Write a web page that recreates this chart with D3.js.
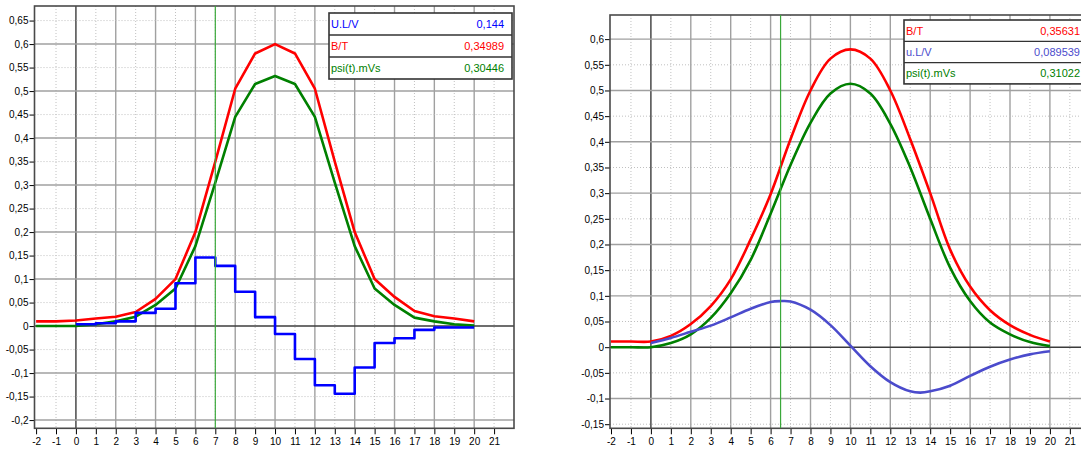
<!doctype html>
<html lang="en">
<head>
<meta charset="UTF-8">
<title>B/T, U.L/V, psi(t)</title>
<style>
    body { margin: 0; background: #fff; }
    svg { display: block; font-family: "Liberation Sans", Arial, sans-serif; }
</style>
</head>
<body>
<svg id="chart" width="1081" height="449"></svg>

<script src="https://d3js.org/d3.v7.min.js"></script>
<script>
    // ---- left chart (sampled, step voltage) ----
    const leftX = [-2, -1, 0, 1, 2, 3, 4, 5, 6, 7, 8, 9, 10, 11, 12, 13, 14, 15, 16, 17, 18, 19, 20];
    const leftBT = [0.01, 0.01, 0.012, 0.016, 0.02, 0.03, 0.058, 0.1, 0.2, 0.35, 0.505, 0.58, 0.6,
                    0.58, 0.505, 0.35, 0.2, 0.1, 0.062, 0.032, 0.021, 0.016, 0.01];
    const leftPsi = [0, 0, 0, 0.004, 0.01, 0.02, 0.045, 0.08, 0.17, 0.305, 0.445, 0.515, 0.532,
                     0.515, 0.445, 0.305, 0.17, 0.08, 0.045, 0.018, 0.01, 0.004, 0.001];
    const leftUX = [0, 1, 2, 3, 4, 5, 6, 7, 8, 9, 10, 11, 12, 13, 14, 15, 16, 17, 18, 19, 20];
    const leftU = [0.004, 0.006, 0.01, 0.028, 0.037, 0.091, 0.146, 0.128, 0.073, 0.019, -0.017,
                   -0.07, -0.126, -0.144, -0.088, -0.036, -0.026, -0.008, -0.003, -0.003, -0.003];
    const leftLegendNames = ['U.L/V', 'B/T', 'psi(t).mVs'];
    const leftLegendValues = ['0,144', '0,34989', '0,30446'];

    // ---- right chart (smooth) ----
    const rightX = [-2, -1, 0, 1, 2, 3, 4, 5, 6, 7, 8, 9, 10, 11, 12, 13, 14, 15, 16, 17, 18, 19, 20];
    const rightBT = [0.011, 0.011, 0.011, 0.022, 0.045, 0.08, 0.132, 0.21, 0.298, 0.405, 0.5, 0.562, 0.58,
                     0.562, 0.5, 0.405, 0.3, 0.19, 0.118, 0.072, 0.043, 0.024, 0.011];
    const rightPsi = [0, 0, 0, 0.008, 0.025, 0.057, 0.105, 0.17, 0.26, 0.355, 0.437, 0.494, 0.513,
                      0.494, 0.435, 0.35, 0.25, 0.155, 0.09, 0.048, 0.025, 0.01, 0.002];
    const rightUX = [0, 1, 2, 3, 4, 5, 6, 6.5, 7, 8, 9, 10, 11, 12, 13, 13.5, 14, 15, 16, 17, 18, 19, 20];
    const rightU = [0.008, 0.018, 0.03, 0.042, 0.058, 0.075, 0.088, 0.0898, 0.089, 0.073, 0.043, 0.003,
                    -0.037, -0.068, -0.086, -0.0885, -0.086, -0.075, -0.056, -0.038, -0.024, -0.014, -0.008];
    const rightLegendNames = ['B/T', 'u.L/V', 'psi(t).mVs'];
    const rightLegendValues = ['0,35631', '0,089539', '0,31022'];

    const xTicks = d3.range(-2, 22);

    const RED = '#ff0000', GREEN = '#008000', BLUE = '#0000ff', SLATE = '#4b4bcc';

    const locale = d3.formatLocale({ decimal: ',', thousands: '.', grouping: [3], currency: ['', ''], minus: '-' });
    const fmt = locale.format('.2~f');
    const fmtInt = locale.format('d');

    const svg = d3.select('#chart');

    function drawChart(cfg) {
        const x = d3.scaleLinear().domain(cfg.xDomain).range(cfg.xRange);
        const y = d3.scaleLinear().domain(cfg.yDomain).range(cfg.yRange);
        const [x0, x1] = cfg.xRange;
        const [y1, y0] = cfg.yRange;
        const g = svg.append('g');

        const clipId = 'clip' + cfg.id;
        g.append('clipPath').attr('id', clipId)
            .append('rect').attr('x', x0).attr('y', y0).attr('width', x1 - x0).attr('height', y1 - y0);

        // grid
        const grid = g.append('g');
        grid.selectAll('line.v')
            .data(xTicks.filter(d => d > -2))
            .enter().append('line')
            .attr('x1', d => x(d)).attr('x2', d => x(d))
            .attr('y1', y0).attr('y2', y1)
            .attr('stroke', d => d === 0 ? '#3c3c3c' : (d % 2 === 0 ? '#a0a0a0' : '#c0c0c0'))
            .attr('stroke-width', d => d % 2 === 0 ? 1.4 : 1)
            .attr('stroke-dasharray', d => d % 2 === 0 ? null : '1,2');

        grid.selectAll('line.h')
            .data(cfg.yTicks)
            .enter().append('line')
            .attr('x1', x0).attr('x2', x1)
            .attr('y1', i => y(i / 20)).attr('y2', i => y(i / 20))
            .attr('stroke', i => i === 0 ? '#3c3c3c' : (i % 2 === 0 ? '#a0a0a0' : '#c0c0c0'))
            .attr('stroke-width', i => i % 2 === 0 ? 1.4 : 1)
            .attr('stroke-dasharray', i => i % 2 === 0 ? null : '1,2');

        // axes
        const yAxis = d3.axisLeft(y)
            .tickValues(cfg.yTicks.map(i => i / 20))
            .tickFormat(fmt)
            .tickSize(5)
            .tickPadding(1);
        g.append('g').attr('transform', `translate(${x0},0)`).call(yAxis)
            .call(a => a.select('.domain').remove())
            .call(a => a.selectAll('text').attr('font-size', 10).attr('fill', '#000'));

        const xAxis = d3.axisBottom(x).tickValues(xTicks).tickFormat(fmtInt).tickSize(6).tickPadding(4);
        g.append('g').attr('transform', `translate(0,${y1})`).call(xAxis)
            .call(a => a.select('.domain').remove())
            .call(a => a.selectAll('text').attr('font-size', 10).attr('fill', '#000'));

        // frame
        g.append('rect')
            .attr('x', x0).attr('y', y0)
            .attr('width', x1 - x0).attr('height', y1 - y0)
            .attr('fill', 'none').attr('stroke', '#4a4a4a').attr('stroke-width', 1.6);

        const plot = g.append('g').attr('clip-path', `url(#${clipId})`);

        // series
        cfg.series.forEach(s => {
            const pts = s.xs.map((v, i) => [v, s.ys[i]]);
            const line = d3.line().x(d => x(d[0])).y(d => y(d[1])).curve(s.curve);
            plot.append('path')
                .attr('d', line(pts))
                .attr('fill', 'none')
                .attr('stroke', s.color)
                .attr('stroke-width', 2.6)
                .attr('stroke-linejoin', 'round');
        });

        // cursor
        plot.append('line')
            .attr('x1', x(cfg.cursor)).attr('x2', x(cfg.cursor))
            .attr('y1', y0).attr('y2', y1)
            .attr('stroke', '#3aa83a').attr('stroke-width', 1.2);

        // legend table
        const lg = g.append('g');
        const rowH = cfg.legend.rowH;
        const lx = cfg.legend.x, ly = cfg.legend.y, lw = cfg.legend.w;
        lg.append('rect')
            .attr('x', lx).attr('y', ly).attr('width', lw).attr('height', rowH * 3)
            .attr('fill', '#fff').attr('stroke', '#333').attr('stroke-width', 1.6);
        cfg.legend.names.forEach((name, i) => {
            if (i > 0) {
                lg.append('line')
                    .attr('x1', lx).attr('x2', lx + lw)
                    .attr('y1', ly + i * rowH).attr('y2', ly + i * rowH)
                    .attr('stroke', '#333').attr('stroke-width', 1.3);
            }
            lg.append('text')
                .attr('x', lx + 2).attr('y', ly + i * rowH + rowH / 2 + 4)
                .attr('font-size', 11).attr('fill', cfg.legend.colors[i])
                .text(name);
            lg.append('text')
                .attr('x', lx + lw - 8).attr('y', ly + i * rowH + rowH / 2 + 4)
                .attr('font-size', 11).attr('fill', cfg.legend.colors[i])
                .attr('text-anchor', 'end')
                .text(cfg.legend.values[i]);
        });
    }

    drawChart({
        id: 'L',
        xDomain: [-2.08, 22], xRange: [34.5, 514],
        yDomain: [-0.2175, 0.681], yRange: [428.3, 6],
        yTicks: d3.range(-4, 14),
        cursor: 7,
        series: [
            { xs: leftX, ys: leftBT, color: RED, curve: d3.curveLinear },
            { xs: leftX, ys: leftPsi, color: GREEN, curve: d3.curveLinear },
            { xs: leftUX, ys: leftU, color: BLUE, curve: d3.curveStepAfter }
        ],
        legend: { x: 329, y: 13, w: 183, rowH: 22,
                  names: leftLegendNames, values: leftLegendValues, colors: [BLUE, RED, GREEN] }
    });

    drawChart({
        id: 'R',
        xDomain: [-2.05, 22], xRange: [610, 1089.8],
        yDomain: [-0.158, 0.647], yRange: [428.3, 15],
        yTicks: d3.range(-3, 13),
        cursor: 6.5,
        series: [
            { xs: rightX, ys: rightBT, color: RED, curve: d3.curveCatmullRom.alpha(0.5) },
            { xs: rightX, ys: rightPsi, color: GREEN, curve: d3.curveCatmullRom.alpha(0.5) },
            { xs: rightUX, ys: rightU, color: SLATE, curve: d3.curveCatmullRom.alpha(0.5) }
        ],
        legend: { x: 904, y: 20, w: 184, rowH: 21.3,
                  names: rightLegendNames, values: rightLegendValues, colors: [RED, SLATE, GREEN] }
    });
</script>
</body>
</html>
